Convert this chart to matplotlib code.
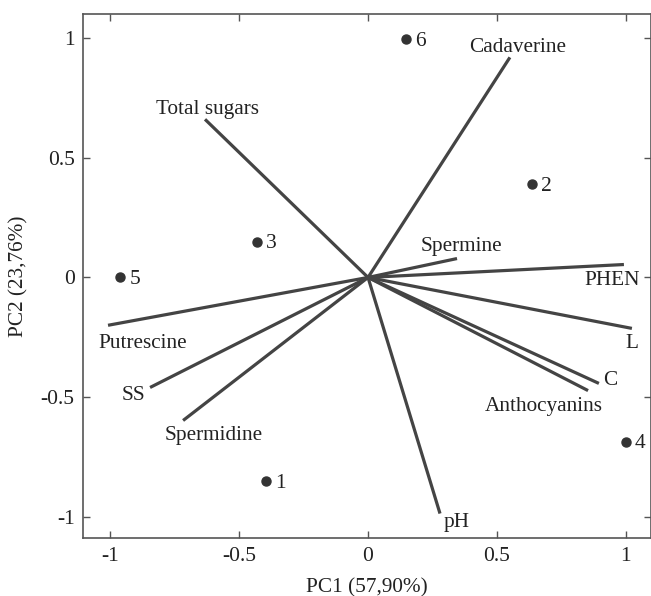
import numpy as np
import matplotlib
matplotlib.use("Agg")
import matplotlib.pyplot as plt

plt.rcParams['font.family'] = ['Liberation Serif', 'DejaVu Serif']
plt.rcParams['axes.unicode_minus'] = False

# sample scores
samples = ['1', '2', '3', '4', '5', '6']
pc1_s = [-0.395, 0.636, -0.43, 1.0, -0.96, 0.147]
pc2_s = [-0.85, 0.389, 0.15, -0.686, 0.0, 0.996]

# variable loadings
variables = ['Cadaverine', 'Total sugars', 'Spermine', 'PHEN', 'Putrescine', 'SS',
             'Spermidine', 'L', 'C', 'Anthocyanins', 'pH']
pc1_v = [0.55, -0.632, 0.345, 0.992, -1.008, -0.845, -0.717, 1.023, 0.895, 0.853, 0.279]
pc2_v = [0.92, 0.661, 0.079, 0.054, -0.2, -0.46, -0.598, -0.213, -0.443, -0.473, -0.987]

# label offsets relative to the loading tip (data units)
lab_dx = [0.03, 0.008, 0.019, -0.046, 0.136, -0.065, 0.117, 0.0, 0.043, -0.171, 0.066]
lab_dy = [0.042, 0.042, 0.051, -0.067, -0.076, -0.034, -0.062, -0.063, 0.012, -0.067, -0.038]

ticks = [-1, -0.5, 0, 0.5, 1]
tick_labels = ['-1', '-0.5', '0', '0.5', '1']

fig = plt.figure(figsize=(6.51, 5.96), dpi=100)
ax = fig.add_axes([0.1275, 0.097, 0.8725, 0.879])

lc = '#444444'
for x, y, name, dx, dy in zip(pc1_v, pc2_v, variables, lab_dx, lab_dy):
    ax.plot([0, x], [0, y], color=lc, lw=2.3, solid_capstyle='butt')
    ax.text(x + dx, y + dy, name, ha='center', va='center', fontsize=15.3, color='#222222')

ax.plot(pc1_s, pc2_s, 'o', color='#333333', ms=6.5)
for x, y, s in zip(pc1_s, pc2_s, samples):
    ax.text(x + 0.035, y - 0.01, s, ha='left', va='center', fontsize=15.5, color='#222222')

ax.set_xlim(-1.105, 1.097)
ax.set_ylim(-1.09, 1.1)
ax.set_xticks(ticks)
ax.set_xticklabels(tick_labels)
ax.set_yticks(ticks)
ax.set_yticklabels(tick_labels)
ax.tick_params(direction='in', top=True, right=True, length=5, width=1,
               color='#555555', labelsize=15.5, labelcolor='#222222', pad=6)
for sp in ax.spines.values():
    sp.set_color('#555555')
    sp.set_linewidth(1.2)

ax.set_xlabel('PC1 (57,90%)', fontsize=15.3, color='#222222', labelpad=9)
ax.set_ylabel('PC2 (23,76%)', fontsize=15.3, color='#222222', labelpad=9)

fig.savefig('out.png', dpi=100)
